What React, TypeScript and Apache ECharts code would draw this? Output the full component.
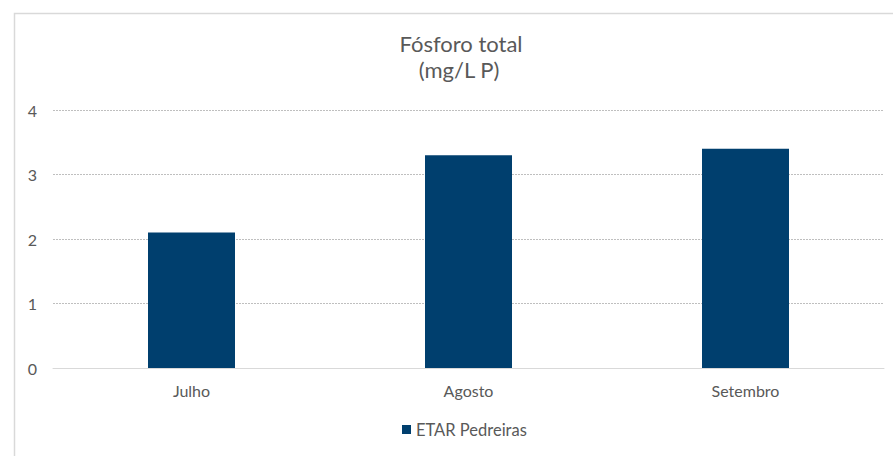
import React, { useEffect, useRef } from "react";
import * as echarts from "echarts";

const categories = ["Julho", "Agosto", "Setembro"];
const seriesName = "ETAR Pedreiras";
const values = [2.1, 3.3, 3.4];
const titleLines = ["Fósforo total", "(mg/L P)"];

export default function App() {
  const ref = useRef<HTMLDivElement>(null);
  useEffect(() => {
    const chart = echarts.init(ref.current!, null, { renderer: "svg" });
    const font = "Lato, 'Open Sans', sans-serif";
    chart.setOption({
      animation: false,
      backgroundColor: "#ffffff",
      textStyle: { fontFamily: font },
      graphic: [
        {
          type: "rect",
          shape: { x: 14.5, y: 13.5, width: 1000, height: 1000 },
          style: { fill: "none", stroke: "#d9d9d9", lineWidth: 1.5 },
          silent: true,
        },
        {
          type: "text",
          x: 461,
          y: 43,
          style: {
            text: titleLines[0],
            fill: "#595959",
            fontSize: 22,
            lineHeight: 23,
            fontFamily: font,
            align: "center",
            verticalAlign: "middle",
          },
        },
        {
          type: "text",
          x: 459,
          y: 69,
          style: {
            text: titleLines[1],
            fill: "#595959",
            fontSize: 22,
            lineHeight: 23,
            fontFamily: font,
            align: "center",
            verticalAlign: "middle",
          },
        },
      ],
      legend: {
        bottom: 13,
        left: 397,
        data: [seriesName],
        icon: "rect",
        itemWidth: 9,
        itemHeight: 9,
        itemGap: 5,
        textStyle: { color: "#595959", fontSize: 16.5, fontFamily: font },
      },
      grid: { left: 53, right: 9, top: 110, bottom: 88, containLabel: false },
      xAxis: {
        type: "category",
        data: categories,
        axisLine: { show: true, lineStyle: { color: "#d9d9d9", width: 1 } },
        axisTick: { show: false },
        axisLabel: { color: "#595959", fontSize: 16, margin: 14, fontFamily: font },
      },
      yAxis: {
        type: "value",
        min: 0,
        max: 4,
        interval: 1,
        axisLine: { show: false },
        axisTick: { show: false },
        axisLabel: { color: "#595959", fontSize: 16, margin: 16, fontFamily: font },
        splitLine: { lineStyle: { color: "#bfbfbf", type: [2, 1], width: 1 } },
      },
      series: [
        {
          name: seriesName,
          type: "bar",
          data: values,
          barWidth: 87,
          itemStyle: { color: "#003f6e" },
        },
      ],
    });
    return () => chart.dispose();
  }, []);
  return (
    <div
      ref={ref}
      style={{ position: "fixed", left: 0, top: 0, width: 893, height: 456 }}
    />
  );
}
